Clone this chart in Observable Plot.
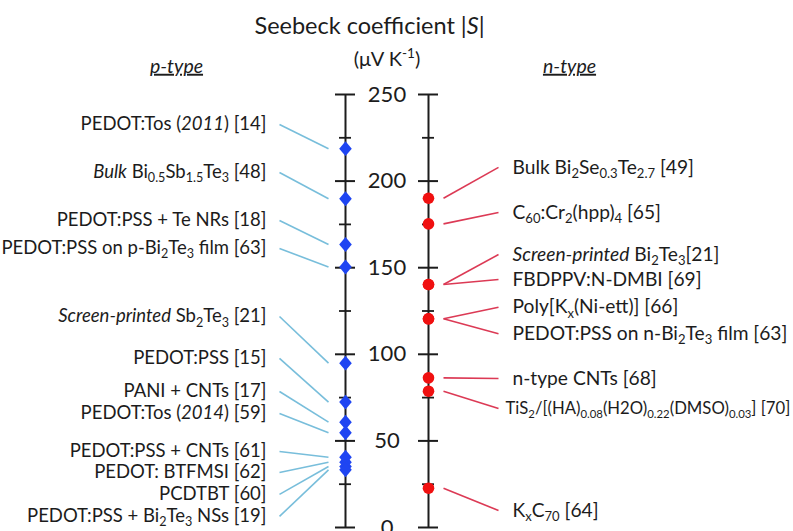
<!DOCTYPE html>
<html><head><meta charset="utf-8">
<script src="https://cdn.jsdelivr.net/npm/d3@7"></script>
<script src="https://cdn.jsdelivr.net/npm/@observablehq/plot@0.6"></script>
<style>
body{margin:0;background:#fff;}
#chart svg{font-family:Lato,"Open Sans",sans-serif;background:#fff;}
</style>
</head><body><div id="chart"></div>
<script>
// ---------- data ----------
const pLabels = [
  "PEDOT:Tos (*2011*) [14]",
  "*Bulk* Bi_{0.5}Sb_{1.5}Te_{3} [48]",
  "PEDOT:PSS + Te NRs [18]",
  "PEDOT:PSS on p-Bi_{2}Te_{3} film [63]",
  "*Screen-printed* Sb_{2}Te_{3} [21]",
  "PEDOT:PSS [15]",
  "PANI + CNTs [17]",
  "PEDOT:Tos (*2014*) [59]",
  "PEDOT:PSS + CNTs [61]",
  "PEDOT: BTFMSI [62]",
  "PCDTBT [60]",
  "PEDOT:PSS + Bi_{2}Te_{3} NSs [19]"
];
const pValues = [218.7, 189.8, 163.4, 150.4, 94.9, 72.4, 60.8, 54.7, 40.6, 37.7, 35.2, 33.3];

const nLabels = [
  "Bulk Bi_{2}Se_{0.3}Te_{2.7} [49]",
  "C_{60}:Cr_{2}(hpp)_{4} [65]",
  "*Screen-printed* Bi_{2}Te_{3}[21]",
  "FBDPPV:N-DMBI [69]",
  "Poly[K_{x}(Ni-ett)] [66]",
  "PEDOT:PSS on n-Bi_{2}Te_{3} film [63]",
  "n-type CNTs [68]",
  "TiS_{2}/[(HA)_{0.08}(H2O)_{0.22}(DMSO)_{0.03}] [70]",
  "K_{x}C_{70} [64]"
];
const nValues = [190.1, 175.3, 140.3, 140.3, 120.5, 120.5, 86.4, 78.7, 22.7];

const majorTicks = [0, 50, 100, 150, 200, 250];
const minorTicks = [25, 75, 125, 175, 225];
const sideNames = ["p-type", "n-type"];
const titleText = "Seebeck coefficient |*S*|";
const unitText = "(μV K^{-1})";

// ---------- layout (annotation anchors, in S units) ----------
const pLabelY = [232.7, 205.0, 177.3, 161.1, 121.8, 97.6, 78.5, 65.8, 43.9, 31.8, 19.1, 6.4];
const nLabelY = [207.9, 181.9, 157.6, 143.2, 127.2, 111.9, 86.0, 68.7, 9.8];

const GAP = 83;                 // px between the two axis lines
const px = n => n / GAP;        // convert px offset into x units

const pData = pLabels.map((label, i) => ({label, value: pValues[i], at: pLabelY[i]}));
const nData = nLabels.map((label, i) => ({label, value: nValues[i], at: nLabelY[i]}));
const nMain = nData.filter(d => !d.label.startsWith("TiS"));
const nSmall = nData.filter(d => d.label.startsWith("TiS"));

const ticksMajor = [0, 1].flatMap(s => majorTicks.map(v => ({s, v})));
const ticksMinor = [0, 1].flatMap(s => minorTicks.map(v => ({s, v})));

const diamond = {
  draw(ctx, size) {
    const r = Math.sqrt(size / Math.PI);
    const w = r * 0.85;
    ctx.moveTo(0, -r); ctx.lineTo(w, 0); ctx.lineTo(0, r); ctx.lineTo(-w, 0); ctx.closePath();
  }
};

const ink = "#1c1c1c";
const blue = "#1f45f2", blueLine = "#78bedb";
const red = "#f01010", redLine = "#dc3a55";

const chart = Plot.plot({
  width: 793,
  height: 531,
  marginTop: 94,
  marginBottom: 4,
  marginLeft: 0,
  marginRight: 0,
  x: {domain: [0, 1], range: [345, 428], axis: null},
  y: {domain: [0, 250], axis: null},
  marks: [
    // links
    Plot.link(pData, {x1: px(-66), y1: "at", x2: px(-17), y2: "value", stroke: blueLine, strokeWidth: 1.6}),
    Plot.link(nData, {x1: 1 + px(15), y1: "value", x2: 1 + px(70), y2: "at", stroke: redLine, strokeWidth: 1.6}),
    // axis lines
    Plot.ruleX([0, 1], {x: d => d, y1: 0, y2: 250, stroke: ink, strokeWidth: 2}),
    Plot.ruleY(ticksMajor, {y: "v", x1: d => d.s - px(10), x2: d => d.s + px(10), stroke: ink, strokeWidth: 2}),
    Plot.ruleY(ticksMinor, {y: "v", x1: d => d.s - px(6), x2: d => d.s + px(6), stroke: ink, strokeWidth: 1.8}),
    Plot.text(majorTicks, {x: 0.5, y: d => d, text: d => String(d), fontSize: 22, fill: ink}),
    // points
    Plot.dot(pData, {x: 0, y: "value", symbol: diamond, r: 7.4, fill: blue, stroke: "none"}),
    Plot.dot(nData, {x: 1, y: "value", r: 5.8, fill: red, stroke: "none"}),
    // labels
    Plot.text(pData, {x: 0, dx: -79, y: "at", text: "label", textAnchor: "end", fontSize: 18.5, fill: ink}),
    Plot.text(nMain, {x: 1, dx: 84, y: "at", text: "label", textAnchor: "start", fontSize: 19.2, fill: ink}),
    Plot.text(nSmall, {x: 1, dx: 77, y: "at", text: "label", textAnchor: "start", fontSize: 16.7, fill: ink}),
    // titles
    Plot.text([titleText], {x: 0, dx: 24, frameAnchor: "top", lineAnchor: "middle", dy: -68, text: d => d, fontSize: 23.5, fill: ink}),
    Plot.text([unitText], {x: 0.5, frameAnchor: "top", lineAnchor: "middle", dy: -35, text: d => d, fontSize: 20, fill: ink}),
    Plot.text([sideNames[0]], {x: 0, dx: -169, frameAnchor: "top", lineAnchor: "middle", dy: -28, text: d => "*" + d + "*", fontSize: 19.5, fill: ink}),
    Plot.text([sideNames[1]], {x: 1, dx: 141, frameAnchor: "top", lineAnchor: "middle", dy: -28, text: d => "*" + d + "*", fontSize: 19.5, fill: ink})
  ]
});

// ---------- rich text: _{sub}, ^{sup}, *italic* ----------
function richify(el) {
  const s = el.textContent;
  if (!/[_^*]/.test(s)) return;
  const parts = s.split(/(_\{[^}]*\}|\^\{[^}]*\}|\*[^*]*\*)/).filter(p => p !== "");
  while (el.firstChild) el.removeChild(el.firstChild);
  let cur = 0; // current baseline offset in base ems (positive = down)
  for (const p of parts) {
    let txt = p, scale = 1, target = 0, italic = false;
    if (p.startsWith("_{")) { txt = p.slice(2, -1); scale = 0.68; target = 0.22; }
    else if (p.startsWith("^{")) { txt = p.slice(2, -1); scale = 0.68; target = -0.38; }
    else if (p.startsWith("*")) { txt = p.slice(1, -1); italic = true; }
    const t = document.createElementNS("http://www.w3.org/2000/svg", "tspan");
    if (scale !== 1) t.setAttribute("font-size", (scale * 100) + "%");
    if (italic) t.setAttribute("font-style", "italic");
    const delta = target - cur;
    if (Math.abs(delta) > 1e-6) t.setAttribute("dy", (delta / scale).toFixed(3) + "em");
    cur = target;
    t.textContent = txt;
    el.appendChild(t);
  }
}
chart.querySelectorAll("text").forEach(richify);
chart.querySelectorAll("text").forEach(el => {
  if (sideNames.includes(el.textContent)) el.setAttribute("text-decoration", "underline");
});
document.getElementById("chart").appendChild(chart);
</script>
</body></html>
